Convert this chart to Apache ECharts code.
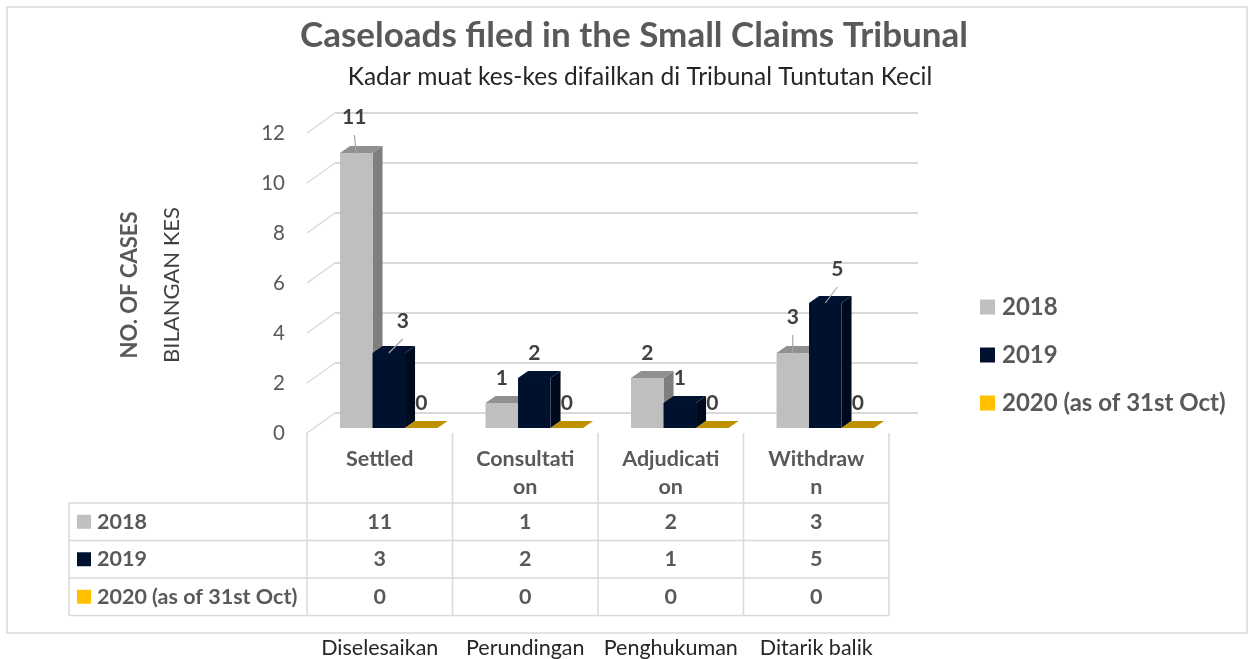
<!DOCTYPE html>
<html>
<head>
<meta charset="utf-8">
<title>Caseloads filed in the Small Claims Tribunal</title>
<script src="https://cdn.jsdelivr.net/npm/echarts@6/dist/echarts.min.js"></script>
<style>
  html, body { margin: 0; padding: 0; background: #fff; }
  #main { width: 1253px; height: 659px; }
</style>
</head>
<body>
<div id="main"></div>
<script>
// data
var categories = ['Settled', 'Consultation', 'Adjudication', 'Withdrawn'];
var headerLabels = ['Settled', 'Consultati\non', 'Adjudicati\non', 'Withdraw\nn'];
var malayLabels = ['Diselesaikan', 'Perundingan', 'Penghukuman', 'Ditarik balik'];
var seriesNames = ['2018', '2019', '2020 (as of 31st Oct)'];
var values2018 = [11, 1, 2, 3];
var values2019 = [3, 2, 1, 5];
var values2020 = [0, 0, 0, 0];
var yTicks = [0, 2, 4, 6, 8, 10, 12];

var allValues = [values2018, values2019, values2020];

// styles
var FONT = 'Lato, "Open Sans", sans-serif';
var LINE = '#D9D9D9';
var faceColors = ['#BFBFBF', '#00112F', '#FFC000'];
var topColors = ['#909090', '#00122F', '#BF9000'];
var sideColors = ['#7F7F7F', '#000A1D', '#9F7800'];
// labels that Excel pulled up with a leader line [dx, dy]
var labelShift = [
  [[-2, -11], null, null, [0, -11]],
  [[14, -7], null, null, [12, -9]],
  [null, null, null, null]
];

var chart = echarts.init(document.getElementById('main'));

function txt(x, y, s, size, weight, color, align, extra) {
  var o = {
    type: 'text', x: x, y: y,
    style: {
      text: s, fill: color,
      font: weight + ' ' + size + 'px ' + FONT,
      align: align || 'center', verticalAlign: 'middle'
    }
  };
  if (extra) for (var k in extra) o.style[k] = extra[k];
  return o;
}

// back wall gridlines + left wall diagonals
function wallItem(params, api) {
  var v = api.value(1);
  var band = api.size([1, 0])[0];
  var p = api.coord([0, v]);
  var x0 = p[0] - band / 2;
  var x1 = x0 + band * categories.length;
  var y = p[1];
  return {
    type: 'group',
    children: [
      { type: 'line', shape: { x1: x0, y1: y, x2: x0 + 28, y2: y - 20 }, style: { stroke: LINE, lineWidth: 1.5 } },
      { type: 'line', shape: { x1: x0 + 28, y1: y - 20, x2: x1 + 29, y2: y - 20 }, style: { stroke: LINE, lineWidth: 2 } }
    ]
  };
}

// 3d looking column
function barItem(k) {
  return function (params, api) {
    var cat = api.value(0), v = api.value(1);
    var band = api.size([1, 0])[0];
    var base = api.coord([cat, 0]);
    var top = api.coord([cat, v]);
    var w = band * 0.2234;
    var x0 = base[0] - band / 2 + band * 0.227 + k * w;
    var yb = base[1] - 5, yt = top[1] - 5;
    var dx = 10, dy = -7;
    var kids = [];
    if (v > 0) {
      kids.push({ type: 'polygon', shape: { points: [[x0 + w, yt], [x0 + w + dx, yt + dy], [x0 + w + dx, yb + dy], [x0 + w, yb]] }, style: { fill: sideColors[k] } });
      kids.push({ type: 'rect', shape: { x: x0, y: yt, width: w, height: yb - yt }, style: { fill: faceColors[k] } });
      kids.push({ type: 'polygon', shape: { points: [[x0, yt], [x0 + dx, yt + dy], [x0 + w + dx, yt + dy], [x0 + w, yt]] }, style: { fill: topColors[k] } });
    } else {
      kids.push({ type: 'polygon', shape: { points: [[x0, yb], [x0 + dx, yb + dy], [x0 + w + dx, yb + dy], [x0 + w, yb]] }, style: { fill: topColors[k] } });
    }
    var lx = x0 + w / 2, ly = yt - 25;
    var sh = labelShift[k][cat];
    if (sh) {
      lx += sh[0]; ly += sh[1];
      kids.push({ type: 'line', shape: { x1: x0 + w / 2, y1: yt, x2: lx, y2: ly + 18 }, style: { stroke: '#A6A6A6', lineWidth: 1.2 } });
    }
    kids.push(txt(lx, ly, String(v), 21, 'bold', '#404040'));
    return { type: 'group', children: kids };
  };
}

// data table under the plot
function tableItem(params, api) {
  var i = api.value(0);
  var band = api.size([1, 0])[0];
  var p = api.coord([i, 0]);
  var cx = p[0], left = cx - band / 2, right = cx + band / 2, y0 = p[1];
  var rowTop = y0 + 70, rowH = 37.5, bottom = rowTop + rowH * 3;
  var ln = { stroke: LINE, lineWidth: 1.5 };
  var kids = [];
  kids.push({ type: 'line', shape: { x1: left, y1: y0, x2: left, y2: bottom }, style: ln });
  if (i === categories.length - 1) {
    kids.push({ type: 'line', shape: { x1: right, y1: y0, x2: right, y2: bottom }, style: ln });
  }
  for (var r = 0; r <= 3; r++) {
    kids.push({ type: 'line', shape: { x1: left, y1: rowTop + r * rowH, x2: right, y2: rowTop + r * rowH }, style: ln });
  }
  kids.push(txt(cx, y0 + 12, headerLabels[i], 21.5, 'bold', '#595959', 'center', { verticalAlign: 'top', lineHeight: 28 }));
  for (var k = 0; k < allValues.length; k++) {
    kids.push(txt(cx, rowTop + rowH * (k + 0.5), String(allValues[k][i]), 21.5, 'bold', '#595959'));
  }
  kids.push(txt(cx, y0 + 215, malayLabels[i], 21.5, 'normal', '#262626'));
  if (i === 0) {
    var tl = left - 238;
    kids.push({ type: 'line', shape: { x1: tl, y1: rowTop, x2: tl, y2: bottom }, style: ln });
    for (var r2 = 0; r2 <= 3; r2++) {
      kids.push({ type: 'line', shape: { x1: tl, y1: rowTop + r2 * rowH, x2: left, y2: rowTop + r2 * rowH }, style: ln });
    }
    for (var s = 0; s < seriesNames.length; s++) {
      var cy = rowTop + rowH * (s + 0.5);
      kids.push({ type: 'rect', shape: { x: tl + 8, y: cy - 7, width: 14, height: 14 }, style: { fill: faceColors[s] } });
      kids.push(txt(tl + 28, cy, seriesNames[s], 21.5, 'bold', '#595959', 'left'));
    }
  }
  return { type: 'group', children: kids };
}

var barSeries = seriesNames.map(function (name, k) {
  return {
    name: name,
    type: 'custom',
    renderItem: barItem(k),
    itemStyle: { color: faceColors[k] },
    encode: { x: 0, y: 1 },
    data: allValues[k].map(function (v, i) { return [i, v]; }),
    z: 3
  };
});

var option = {
  animation: false,
  backgroundColor: '#fff',
  grid: { left: 307, right: 364, top: 133, bottom: 226 },
  xAxis: {
    type: 'category',
    data: categories,
    axisLine: { show: false },
    axisTick: { show: false },
    axisLabel: { show: false },
    splitLine: { show: false }
  },
  yAxis: {
    type: 'value',
    min: 0, max: 12, interval: 2,
    axisLine: { show: false },
    axisTick: { show: false },
    splitLine: { show: false },
    axisLabel: { color: '#595959', fontSize: 20.5, fontFamily: FONT, margin: 22 }
  },
  legend: {
    data: seriesNames,
    orient: 'vertical',
    left: 980, top: 295,
    padding: 0,
    icon: 'rect',
    itemWidth: 15, itemHeight: 15,
    itemGap: 24,
    textStyle: { color: '#595959', fontSize: 24, fontWeight: 'bold', fontFamily: FONT, lineHeight: 24, padding: [0, 0, 0, 2] }
  },
  graphic: [
    { type: 'rect', shape: { x: 7, y: 7, width: 1240, height: 626 }, style: { fill: 'none', stroke: LINE, lineWidth: 1.5 }, z: -1 },
    txt(634, 36, 'Caseloads filed in the Small Claims Tribunal', 35, 'bold', '#595959'),
    txt(640, 77, 'Kadar muat kes-kes difailkan di Tribunal Tuntutan Kecil', 24.5, 'normal', '#262626'),
    Object.assign(txt(0, 0, 'NO. OF CASES', 22, 'bold', '#595959'), { x: 130, y: 285, rotation: Math.PI / 2 }),
    Object.assign(txt(0, 0, 'BILANGAN KES', 22, 'normal', '#404040'), { x: 172, y: 285, rotation: Math.PI / 2 })
  ],
  series: [
    {
      name: 'wall',
      type: 'custom',
      renderItem: wallItem,
      encode: { x: 0, y: 1 },
      data: yTicks.map(function (t) { return [0, t]; }),
      silent: true,
      z: 1
    }
  ].concat(barSeries).concat([
    {
      name: 'table',
      type: 'custom',
      renderItem: tableItem,
      encode: { x: 0, y: 1 },
      data: categories.map(function (c, i) { return [i, 0]; }),
      silent: true,
      z: 2
    }
  ])
};

chart.setOption(option);
</script>
</body>
</html>
